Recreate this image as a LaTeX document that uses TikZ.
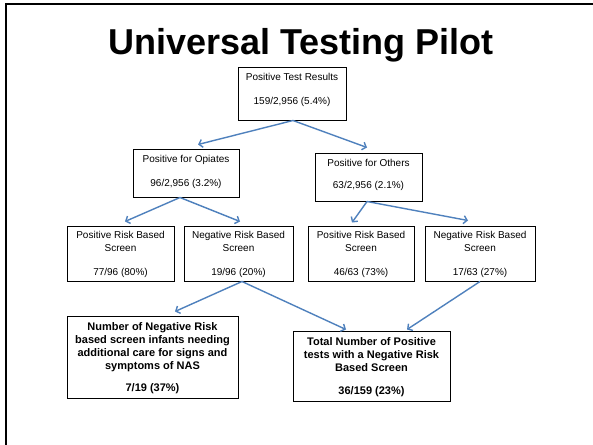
\documentclass[tikz,border=0pt]{standalone}
\usepackage{fontspec}
\setmainfont{Liberation Sans}
\usetikzlibrary{arrows.meta,calc}

\definecolor{linkblue}{RGB}{79,129,189}

\tikzset{
  box/.style={draw=black, line width=1pt, fill=white, inner sep=0pt},
  label/.style={anchor=north, inner sep=0pt, align=center,
                font=\fontsize{10}{12}\selectfont},
  labelrow/.style={anchor=north, inner sep=0pt, align=center,
                font=\fontsize{10}{13}\selectfont},
  boldlabel/.style={anchor=north, inner sep=0pt, align=center,
                font=\fontsize{11}{13}\selectfont\bfseries},
  conn/.style={draw=linkblue, line width=1.4pt,
               -{Straight Barb[length=3.5pt,width=8pt,line width=1.4pt]}},
}

\begin{document}
\begin{tikzpicture}[x=1pt, y={(0pt,-1pt)}]
  % page area and slide frame
  \useasboundingbox (0,0) rectangle (593,444);
  \fill[white] (0,0) rectangle (593,444);
  \draw[black, line width=2pt] (6,450) -- (6,4) -- (600,4);

  % title
  \node[anchor=base, inner sep=0pt, font=\fontsize{36}{43}\selectfont\bfseries]
    (title) at (301,55) {Universal Testing Pilot};

  % boxes
  \node[box, minimum width=108pt, minimum height=53pt] (top) at (292,93.5) {};
  \node[box, minimum width=106pt, minimum height=48pt] (opi) at (186,173) {};
  \node[box, minimum width=107pt, minimum height=48pt] (oth) at (368.5,177) {};
  \node[box, minimum width=107pt, minimum height=55pt] (pa)  at (120.5,253.5) {};
  \node[box, minimum width=109pt, minimum height=55pt] (na)  at (238.5,253.5) {};
  \node[box, minimum width=106pt, minimum height=55pt] (pb)  at (361,253.5) {};
  \node[box, minimum width=110pt, minimum height=55pt] (nb)  at (480,253.5) {};
  \node[box, minimum width=171pt, minimum height=82pt] (care) at (152.5,357) {};
  \node[box, minimum width=157pt, minimum height=70pt] (total) at (371.5,366) {};

  % box texts
  \node[label] (ttop) at ($(top.north)+(0,6.4)$)
    {Positive Test Results\\[12pt]159/2,956 (5.4\%)};
  \node[label] (topi) at ($(opi.north)+(0,6.4)$)
    {Positive for Opiates\\[12pt]96/2,956 (3.2\%)};
  \node[label] (toth) at ($(oth.north)+(0,6.4)$)
    {Positive for Others\\[10pt]63/2,956 (2.1\%)};
  \node[labelrow] (tpa) at ($(pa.north)+(0,5.4)$)
    {Positive Risk Based\\Screen\\[11pt]77/96 (80\%)};
  \node[labelrow] (tna) at ($(na.north)+(0,5.4)$)
    {Negative Risk Based\\Screen\\[11pt]19/96 (20\%)};
  \node[labelrow] (tpb) at ($(pb.north)+(0,5.4)$)
    {Positive Risk Based\\Screen\\[11pt]46/63 (73\%)};
  \node[labelrow] (tnb) at ($(nb.north)+(0,5.4)$)
    {Negative Risk Based\\Screen\\[11pt]17/63 (27\%)};
  \node[boldlabel] (tcare) at ($(care.north)+(0,7)$)
    {Number of Negative Risk\\based screen infants needing\\additional care for signs and\\symptoms of NAS\\[9pt]7/19 (37\%)};
  \node[boldlabel] (ttotal) at ($(total.north)+(0,7)$)
    {Total Number of Positive\\tests with a Negative Risk\\Based Screen\\[10pt]36/159 (23\%)};

  % connectors
  \draw[conn] ($(top.south)+(1,0)$) -- ($(opi.north)+(12,-4)$);
  \draw[conn] ($(top.south)+(1,0)$) -- ($(oth.north)+(-1.5,-5)$);
  \draw[conn] ($(opi.south)+(-6,0)$) -- ($(pa.north)+(4.5,-4)$);
  \draw[conn] ($(opi.south)+(-6,0)$) -- ($(na.north)+(1.5,-4)$);
  \draw[conn] ($(oth.south)+(-1.5,0)$) -- ($(pb.north)+(-9,-3)$);
  \draw[conn] ($(oth.south)+(-1.5,0)$) -- ($(nb.north)+(-12,-5)$);
  \draw[conn] ($(na.south)+(3.5,0)$) -- ($(care.north)+(22.5,-4)$);
  \draw[conn] ($(na.south)+(3.5,0)$) -- ($(total.north)+(-25.5,-1)$);
  \draw[conn] (nb.south) -- ($(total.north)+(35.5,-1)$);
\end{tikzpicture}
\end{document}
